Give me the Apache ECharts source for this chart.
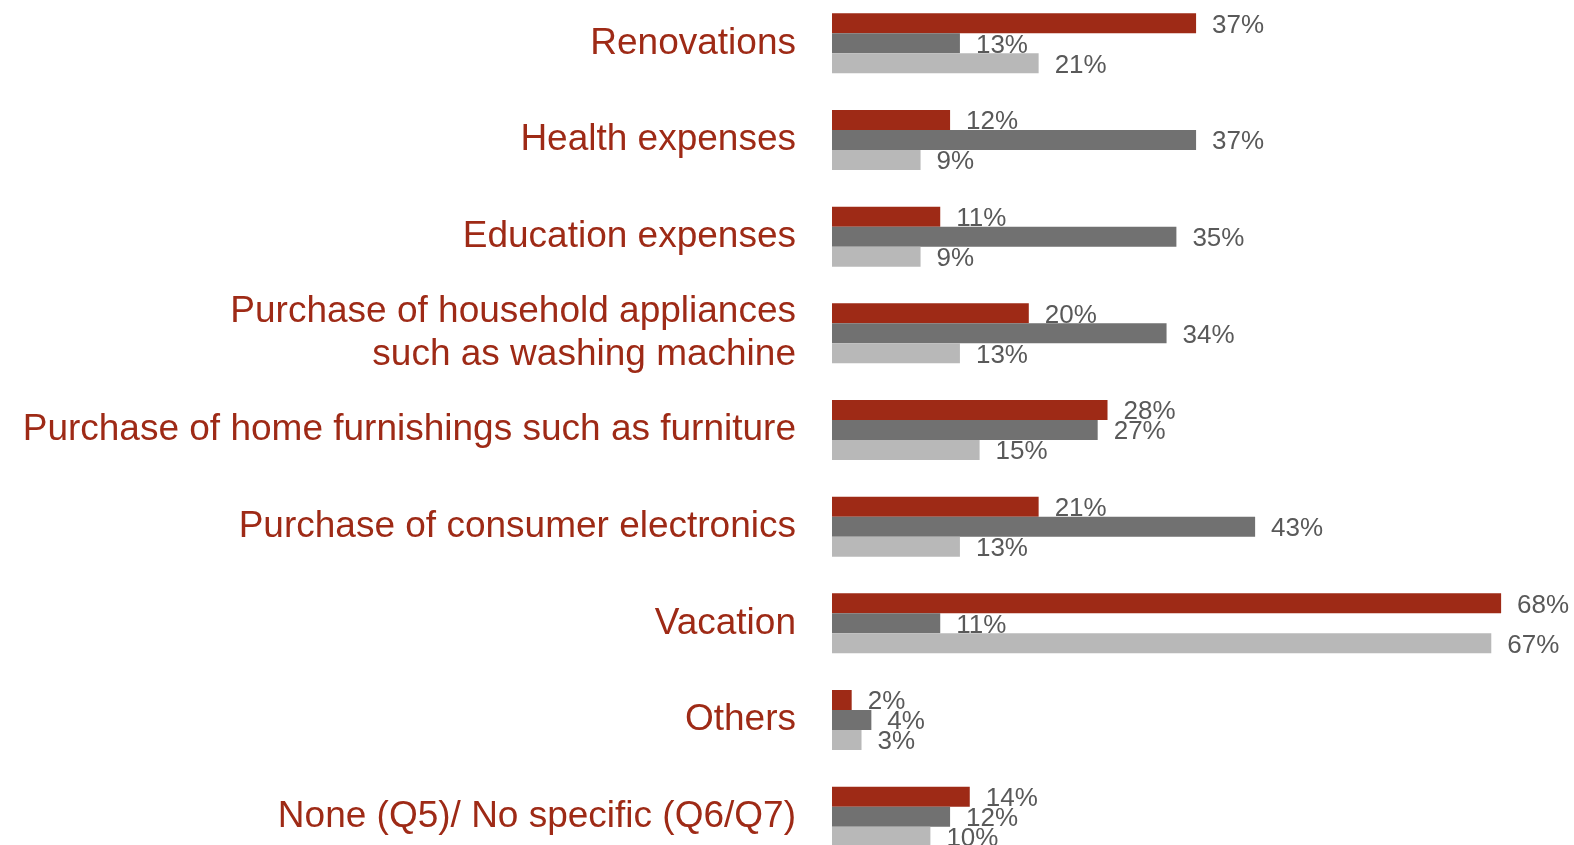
<!DOCTYPE html>
<html>
<head>
<meta charset="utf-8">
<script src="https://cdn.jsdelivr.net/npm/echarts@6/dist/echarts.min.js"></script>
<style>
  html, body { margin: 0; padding: 0; background: #fff; }
  #chart { width: 1574px; height: 845px; }
</style>
</head>
<body>
<div id="chart"></div>
<script>
var categories = [
    "Renovations",
    "Health expenses",
    "Education expenses",
    "Purchase of household appliances\nsuch as washing machine",
    "Purchase of home furnishings such as furniture",
    "Purchase of consumer electronics",
    "Vacation",
    "Others",
    "None (Q5)/ No specific (Q6/Q7)"
];
var q5 = [37, 12, 11, 20, 28, 21, 68, 2, 14];
var q6 = [13, 37, 35, 34, 27, 43, 11, 4, 12];
var q7 = [21, 9, 9, 13, 15, 13, 67, 3, 10];

var colors = ["#9e2a16", "#717171", "#b8b8b8"];

var make_series = function (name, data, color) {
    return {
        name: name,
        type: "bar",
        data: data,
        barWidth: 20,
        barGap: "0%",
        itemStyle: { color: color },
        label: {
            show: true,
            position: "right",
            distance: 16,
            offset: [0, 2],
            formatter: "{c}%",
            color: "#595959",
            fontSize: 26,
            fontFamily: "Liberation Sans, Arial, sans-serif"
        },
        silent: true
    };
};

var chart = echarts.init(document.getElementById("chart"));
chart.setOption({
    animation: false,
    grid: {
        left: 832,
        top: -5,
        width: 688.8,
        height: 870,
        outerBoundsMode: "none",
        containLabel: false
    },
    xAxis: {
        type: "value",
        min: 0,
        max: 70,
        show: false
    },
    yAxis: {
        type: "category",
        inverse: true,
        data: categories,
        axisLine: { show: false },
        axisTick: { show: false },
        splitLine: { show: false },
        axisLabel: {
            margin: 36,
            color: "#9e2a16",
            fontSize: 37,
            lineHeight: 43,
            padding: [0, 0, 6, 0],
            fontFamily: "Liberation Sans, Arial, sans-serif",
            align: "right"
        }
    },
    series: [
        make_series("Q5", q5, colors[0]),
        make_series("Q6", q6, colors[1]),
        make_series("Q7", q7, colors[2])
    ]
});
</script>
</body>
</html>
